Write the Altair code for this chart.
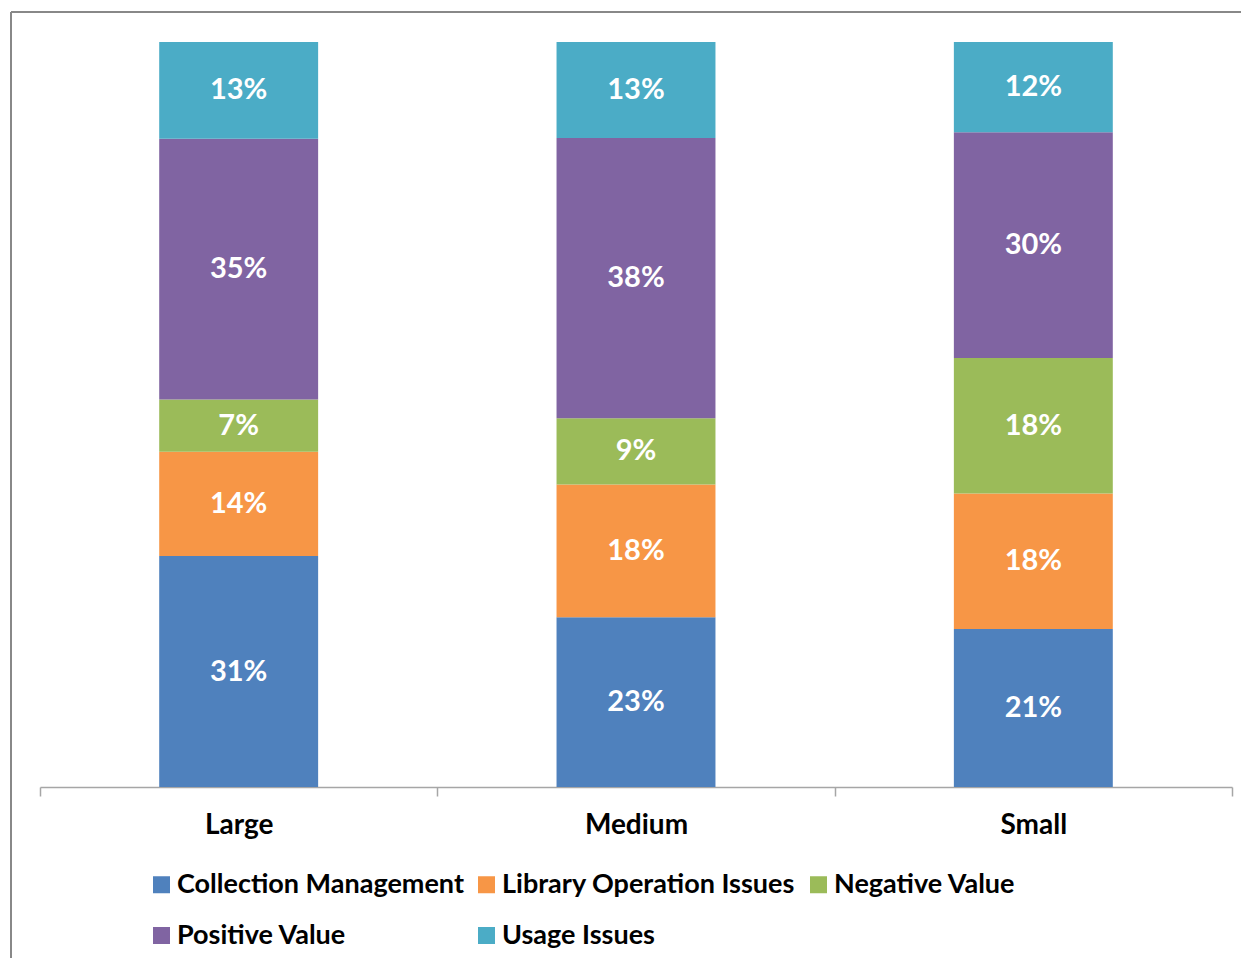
import altair as alt
import pandas as pd

sizes = ["Large", "Medium", "Small"]
topics = ["Collection Management", "Library Operation Issues", "Negative Value",
          "Positive Value", "Usage Issues"]
large = [31, 14, 7, 35, 13]
medium = [23, 18, 9, 38, 13]
small = [21, 18, 18, 30, 12]
colors = ["#4F81BD", "#F79646", "#9BBB59", "#8064A2", "#4BACC6"]
title_text = "Figure 21: Tangible Collection Topic Elaborations by Library Size"

# legend fills column by column in two rows, so list entries column-wise
legend_order = [0, 3, 1, 4, 2]
legend_topics = [topics[i] for i in legend_order]
legend_colors = [colors[i] for i in legend_order]

rows = []
for s, vals in zip(sizes, [large, medium, small]):
    for i, (t, v) in enumerate(zip(topics, vals)):
        rows.append({"size": s, "topic": t, "order": i, "value": v})
df = pd.DataFrame(rows)

W, H = 1192, 745
FONT = "Lato"

base = alt.Chart(df).transform_stack(
    stack="value", as_=["y0", "y1"], groupby=["size"],
    sort=[alt.SortField("order", order="ascending")], offset="normalize"
).transform_calculate(
    mid="(datum.y0 + datum.y1) / 2",
    label="datum.value + '%'"
)

x_enc = alt.X("size:N", sort=sizes, title=None,
              scale=alt.Scale(paddingInner=0, paddingOuter=0),
              axis=alt.Axis(tickBand="extent", domainColor="#A6A6A6", tickColor="#A6A6A6",
                            domainWidth=1.5, tickWidth=1.5, tickSize=9, grid=False,
                            labelFont=FONT, labelFontWeight="bold", labelFontSize=28,
                            labelColor="black", labelAngle=0, labelPadding=15))

bars = base.mark_bar(width=alt.RelativeBandSize(0.4)).encode(
    x=x_enc,
    y=alt.Y("y0:Q", axis=None, scale=alt.Scale(domain=[0, 1])),
    y2="y1:Q",
    color=alt.Color("topic:N",
                    scale=alt.Scale(domain=legend_topics, range=legend_colors),
                    legend=alt.Legend(orient="none", legendX=108, legendY=829, title=None,
                                      columns=3, symbolType="square", symbolSize=289,
                                      symbolStrokeWidth=0, labelFont=FONT, labelFontWeight="bold",
                                      labelFontSize=27, labelColor="black", labelOffset=2,
                                      columnPadding=9, rowPadding=23, padding=0,
                                      labelLimit=500)),
)

labels = base.mark_text(font=FONT, fontWeight="bold", fontSize=29, color="white",
                        baseline="middle", align="center").encode(
    x=alt.X("size:N", sort=sizes),
    y=alt.Y("mid:Q"),
    text="label:N",
)

one = alt.Chart(pd.DataFrame({"a": [0]}))
frame_left = one.mark_rule(color="#888888", strokeWidth=2).encode(
    x=alt.value(-29), x2=alt.value(-29), y=alt.value(-30), y2=alt.value(H + 400))
frame_top = one.mark_rule(color="#888888", strokeWidth=2).encode(
    x=alt.value(-29), x2=alt.value(W + 100), y=alt.value(-30), y2=alt.value(-30))
title = one.mark_text(text=title_text, font=FONT, fontWeight="bold", fontSize=24,
                      align="left", baseline="alphabetic", color="black").encode(
    x=alt.value(-73), y=alt.value(-39))

chart = alt.layer(bars, labels, frame_left, frame_top, title).properties(
    width=W, height=H,
    autosize=alt.AutoSizeParams(type="none"),
    padding={"left": 32, "top": 34, "right": 9, "bottom": 171},
).configure_view(stroke=None)

chart.save("out.html", embed_options={"renderer": "svg", "actions": False})
